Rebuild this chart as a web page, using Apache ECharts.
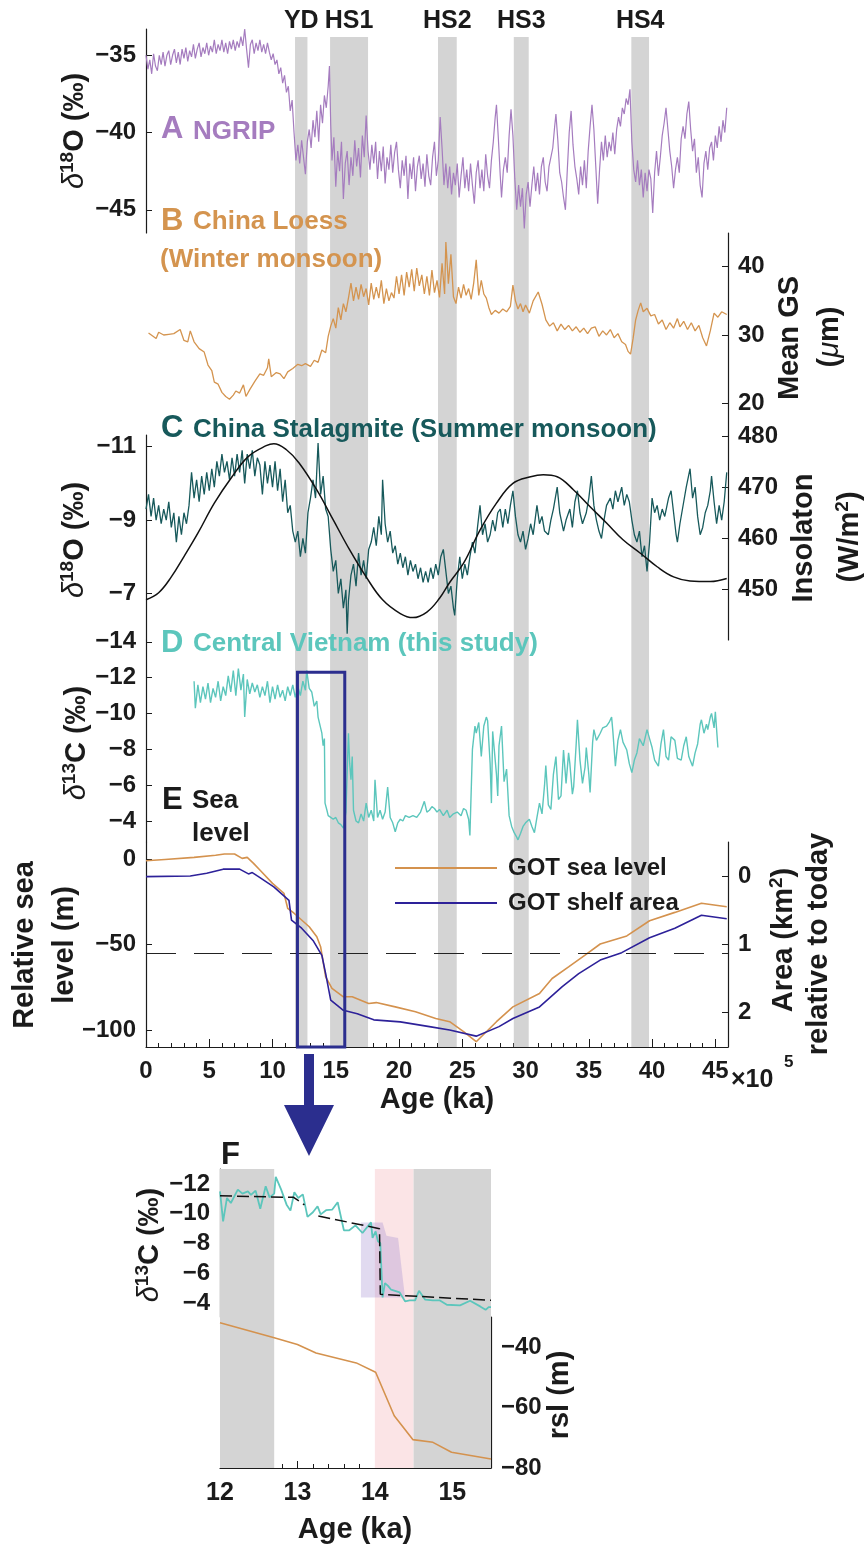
<!DOCTYPE html>
<html>
<head>
<meta charset="utf-8">
<script src="https://cdn.jsdelivr.net/npm/echarts@6/dist/echarts.min.js"></script>
<style>
  html, body { margin: 0; background: #fff; }
  #chart { width: 865px; height: 1546px; }
</style>
</head>
<body>
<div id="chart"></div>
<script>
// ---- data (age in ka) ----
const bandNames = ["YD", "HS1", "HS2", "HS3", "HS4"];
const bandStart = [11.78, 14.55, 23.08, 29.07, 38.36];
const bandEnd = [12.76, 17.55, 24.56, 30.25, 39.76];

const ngrip = [[0,-35.0],[0.15,-35.9],[0.3,-35.3],[0.45,-36.2],[0.6,-34.9],[0.75,-35.7],[0.9,-36.0],[1.05,-35.0],[1.2,-35.6],[1.35,-34.8],[1.5,-35.7],[1.65,-35.0],[1.8,-34.7],[1.95,-35.6],[2.1,-35.0],[2.25,-34.6],[2.4,-35.5],[2.55,-34.8],[2.7,-35.6],[2.85,-34.6],[3.0,-35.2],[3.15,-34.5],[3.3,-35.4],[3.45,-34.7],[3.6,-35.1],[3.75,-34.3],[3.9,-35.2],[4.05,-34.6],[4.2,-34.2],[4.35,-35.1],[4.5,-34.5],[4.65,-34.9],[4.8,-34.2],[4.95,-35.0],[5.1,-34.4],[5.25,-34.8],[5.4,-34.0],[5.55,-34.9],[5.7,-34.3],[5.85,-34.7],[6.0,-34.0],[6.15,-34.8],[6.3,-34.2],[6.45,-34.9],[6.6,-34.1],[6.75,-34.6],[6.9,-34.0],[7.05,-34.7],[7.2,-34.1],[7.35,-34.5],[7.5,-33.8],[7.65,-34.4],[7.8,-33.3],[7.95,-34.6],[8.1,-35.8],[8.25,-34.3],[8.4,-34.0],[8.55,-34.9],[8.7,-34.2],[8.85,-34.7],[9.0,-34.0],[9.15,-34.8],[9.3,-34.3],[9.45,-34.9],[9.6,-34.2],[9.75,-34.8],[9.9,-35.3],[10.05,-34.9],[10.2,-35.6],[10.35,-35.3],[10.5,-36.2],[10.65,-35.8],[10.8,-36.8],[10.95,-36.3],[11.1,-37.4],[11.25,-37.0],[11.4,-38.6],[11.55,-37.9],[11.7,-40.0],[11.85,-41.8],[12.0,-40.8],[12.15,-42.0],[12.3,-40.5],[12.45,-41.6],[12.6,-42.7],[12.75,-40.6],[12.9,-39.8],[13.05,-41.0],[13.2,-39.2],[13.35,-40.3],[13.5,-38.6],[13.65,-40.6],[13.8,-38.2],[13.95,-39.4],[14.1,-37.6],[14.25,-38.4],[14.4,-37.0],[14.5,-35.7],[14.6,-39.5],[14.7,-41.8],[14.85,-40.3],[15.0,-43.5],[15.15,-41.2],[15.3,-42.5],[15.45,-40.6],[15.6,-44.3],[15.75,-42.0],[15.9,-41.2],[16.05,-43.4],[16.2,-41.6],[16.35,-42.8],[16.5,-40.5],[16.65,-42.2],[16.8,-41.0],[16.95,-42.9],[17.1,-40.2],[17.25,-41.6],[17.4,-38.9],[17.55,-41.2],[17.7,-42.4],[17.85,-40.8],[18.0,-42.0],[18.15,-40.6],[18.3,-43.0],[18.45,-41.2],[18.6,-42.5],[18.75,-40.9],[18.9,-43.3],[19.05,-41.6],[19.2,-42.4],[19.35,-40.8],[19.5,-42.6],[19.65,-41.3],[19.8,-40.6],[19.95,-42.4],[20.1,-43.6],[20.25,-41.8],[20.4,-42.8],[20.55,-41.5],[20.7,-44.3],[20.85,-42.0],[21.0,-43.0],[21.15,-41.6],[21.3,-43.8],[21.45,-42.2],[21.6,-41.5],[21.75,-43.0],[21.9,-42.0],[22.05,-43.5],[22.2,-41.4],[22.35,-42.8],[22.5,-43.4],[22.65,-41.6],[22.8,-40.6],[22.95,-42.8],[23.1,-41.8],[23.25,-39.0],[23.4,-41.0],[23.55,-43.4],[23.7,-42.0],[23.85,-43.6],[24.0,-42.2],[24.15,-44.0],[24.3,-42.6],[24.45,-43.4],[24.6,-42.0],[24.75,-44.2],[24.9,-42.8],[25.05,-41.6],[25.2,-43.6],[25.35,-42.4],[25.5,-43.8],[25.65,-42.0],[25.8,-43.4],[25.95,-44.6],[26.1,-42.6],[26.25,-41.8],[26.4,-43.6],[26.55,-42.4],[26.7,-43.8],[26.85,-41.4],[27.0,-42.8],[27.15,-43.6],[27.3,-41.8],[27.45,-40.6],[27.6,-39.0],[27.7,-38.2],[27.85,-40.4],[28.0,-42.8],[28.1,-44.2],[28.25,-42.4],[28.4,-41.6],[28.55,-42.6],[28.7,-40.2],[28.85,-38.5],[29.0,-40.2],[29.15,-43.0],[29.3,-45.0],[29.45,-43.4],[29.6,-44.8],[29.75,-43.6],[29.9,-46.2],[30.05,-44.0],[30.2,-43.2],[30.35,-44.8],[30.5,-43.4],[30.65,-42.2],[30.8,-43.8],[30.95,-42.6],[31.1,-44.0],[31.25,-42.2],[31.4,-41.6],[31.55,-43.2],[31.7,-43.8],[31.85,-42.2],[32.0,-41.6],[32.15,-41.0],[32.3,-39.6],[32.4,-38.8],[32.55,-40.5],[32.7,-42.6],[32.85,-43.2],[33.0,-44.2],[33.15,-45.0],[33.3,-42.4],[33.45,-40.0],[33.6,-38.6],[33.75,-40.8],[33.9,-42.2],[34.05,-43.0],[34.2,-44.0],[34.35,-42.2],[34.5,-43.4],[34.65,-41.8],[34.8,-43.6],[34.95,-41.2],[35.1,-39.6],[35.25,-38.2],[35.4,-39.8],[35.55,-42.2],[35.7,-44.6],[35.85,-42.4],[36.0,-40.6],[36.15,-41.8],[36.3,-40.2],[36.45,-41.6],[36.6,-40.6],[36.75,-41.2],[36.9,-40.0],[37.05,-41.4],[37.2,-39.8],[37.35,-39.0],[37.5,-39.6],[37.65,-38.4],[37.8,-38.8],[37.95,-37.8],[38.1,-38.2],[38.25,-37.2],[38.4,-40.6],[38.55,-42.4],[38.7,-43.2],[38.85,-41.8],[39.0,-43.4],[39.15,-42.4],[39.3,-44.2],[39.45,-42.6],[39.6,-43.8],[39.75,-42.4],[39.9,-43.0],[40.05,-45.2],[40.2,-42.6],[40.35,-41.2],[40.5,-42.8],[40.65,-41.6],[40.8,-40.2],[40.95,-39.4],[41.1,-38.4],[41.25,-39.8],[41.4,-41.2],[41.55,-42.2],[41.7,-43.6],[41.85,-42.4],[42.0,-41.6],[42.15,-42.6],[42.3,-40.4],[42.45,-39.6],[42.6,-40.4],[42.75,-38.8],[42.9,-38.0],[43.05,-39.8],[43.2,-41.2],[43.35,-40.4],[43.5,-42.6],[43.65,-41.6],[43.8,-43.4],[43.95,-44.2],[44.1,-42.0],[44.25,-41.2],[44.4,-42.4],[44.55,-41.0],[44.7,-40.6],[44.85,-41.8],[45.0,-40.2],[45.15,-41.0],[45.3,-39.6],[45.45,-40.6],[45.6,-39.2],[45.75,-40.0],[45.9,-38.4]];

const loess = [[0.2,30.3],[0.5,29.9],[0.8,29.5],[1.0,30.4],[1.4,30.0],[1.8,30.1],[2.2,30.2],[2.7,30.8],[3.0,29.2],[3.3,29.0],[3.5,30.6],[3.8,29.0],[4.2,28.0],[4.6,27.5],[4.9,25.6],[5.2,24.8],[5.4,23.1],[5.7,22.8],[6.0,21.6],[6.3,21.0],[6.6,20.6],[6.9,21.2],[7.1,21.8],[7.4,21.5],[7.7,22.7],[7.9,21.0],[8.2,22.0],[8.6,23.2],[9.0,24.3],[9.3,24.1],[9.6,25.2],[9.7,26.5],[9.9,23.9],[10.3,24.5],[10.6,24.3],[10.9,23.6],[11.2,24.6],[11.6,25.1],[12.0,25.7],[12.3,25.5],[12.6,25.8],[13.0,25.4],[13.3,26.3],[13.6,26.0],[13.9,27.8],[14.2,27.4],[14.4,29.8],[14.6,31.3],[14.8,32.4],[15.0,31.0],[15.2,34.0],[15.4,32.2],[15.6,34.6],[15.8,33.4],[16.0,35.4],[16.2,37.6],[16.4,35.0],[16.6,37.0],[16.8,35.2],[17.0,37.4],[17.2,35.6],[17.4,36.8],[17.6,34.4],[17.8,37.6],[18.0,35.2],[18.2,37.0],[18.4,35.4],[18.6,38.0],[18.8,34.6],[19.0,36.8],[19.2,35.0],[19.4,36.2],[19.6,35.4],[19.8,38.6],[20.0,36.0],[20.2,38.8],[20.4,35.8],[20.6,39.2],[20.8,37.0],[21.0,39.6],[21.2,36.4],[21.4,39.8],[21.6,37.2],[21.8,38.8],[22.0,36.0],[22.2,38.6],[22.4,35.8],[22.6,39.5],[22.8,36.2],[23.0,38.0],[23.2,35.5],[23.4,40.5],[23.6,36.0],[23.7,43.6],[23.9,37.5],[24.1,41.8],[24.3,35.6],[24.5,34.6],[24.7,37.0],[24.9,35.4],[25.1,37.4],[25.3,35.8],[25.5,36.8],[25.7,35.2],[25.9,37.6],[26.1,41.0],[26.3,35.8],[26.5,38.0],[26.7,36.0],[26.9,35.4],[27.1,34.0],[27.3,33.0],[27.6,33.6],[27.9,33.2],[28.2,33.8],[28.5,33.4],[28.8,34.2],[29.0,37.3],[29.2,35.0],[29.4,33.8],[29.6,34.6],[29.8,33.4],[30.0,34.4],[30.3,33.2],[30.6,35.0],[31.0,36.3],[31.3,34.5],[31.6,32.2],[31.9,31.3],[32.2,31.8],[32.5,30.6],[32.8,31.6],[33.1,30.8],[33.4,31.4],[33.7,30.6],[34.0,31.2],[34.3,30.4],[34.6,31.0],[34.9,30.2],[35.2,31.0],[35.5,31.2],[35.8,29.8],[36.1,30.6],[36.4,30.0],[36.7,30.8],[37.0,29.6],[37.3,30.2],[37.6,29.0],[37.9,28.6],[38.1,27.6],[38.3,27.2],[38.5,29.5],[38.7,32.2],[38.9,33.6],[39.1,34.7],[39.3,33.4],[39.6,33.9],[39.9,32.8],[40.2,33.0],[40.5,31.6],[40.8,32.2],[41.1,30.8],[41.4,31.8],[41.7,31.0],[42.0,32.4],[42.2,31.2],[42.5,32.0],[42.8,30.8],[43.1,31.8],[43.4,30.6],[43.7,31.4],[44.0,29.6],[44.3,28.4],[44.6,30.6],[44.9,33.2],[45.2,32.6],[45.5,33.4],[45.9,33.0]];

const stalagmite = [[0.0,-9.3],[0.2,-9.7],[0.4,-9.1],[0.6,-9.6],[0.8,-9.0],[1.0,-9.4],[1.2,-8.9],[1.4,-9.3],[1.6,-9.0],[1.8,-9.5],[2.0,-8.8],[2.2,-9.2],[2.4,-8.4],[2.6,-9.1],[2.8,-8.6],[3.0,-9.2],[3.2,-8.9],[3.4,-9.4],[3.6,-10.3],[3.8,-9.6],[4.0,-10.1],[4.2,-9.5],[4.4,-10.2],[4.6,-9.7],[4.8,-10.3],[5.0,-9.8],[5.2,-10.4],[5.4,-9.9],[5.6,-10.6],[5.8,-10.2],[6.0,-10.8],[6.2,-10.3],[6.4,-10.6],[6.6,-10.1],[6.8,-10.7],[7.0,-10.2],[7.2,-10.8],[7.4,-10.3],[7.6,-10.9],[7.8,-10.0],[8.0,-10.8],[8.2,-10.4],[8.4,-10.9],[8.6,-10.2],[8.8,-10.7],[9.0,-10.5],[9.2,-9.7],[9.4,-10.6],[9.6,-10.0],[9.8,-10.5],[10.0,-9.9],[10.2,-10.6],[10.4,-9.8],[10.6,-10.4],[10.8,-9.5],[11.0,-10.1],[11.2,-9.2],[11.4,-9.4],[11.6,-8.7],[11.8,-8.4],[12.0,-8.7],[12.2,-8.0],[12.4,-8.5],[12.6,-8.1],[12.8,-9.2],[13.0,-9.6],[13.2,-10.1],[13.4,-9.6],[13.6,-11.1],[13.8,-9.7],[14.0,-10.2],[14.2,-9.3],[14.4,-9.1],[14.6,-8.2],[14.8,-7.6],[15.0,-7.9],[15.2,-7.0],[15.4,-7.4],[15.6,-6.6],[15.8,-7.1],[15.9,-5.9],[16.0,-6.8],[16.2,-7.5],[16.4,-7.8],[16.6,-7.2],[16.8,-8.1],[17.0,-7.5],[17.2,-7.9],[17.4,-7.4],[17.6,-8.2],[17.8,-8.4],[18.0,-8.8],[18.2,-8.3],[18.4,-9.1],[18.6,-8.6],[18.7,-10.1],[18.9,-8.9],[19.1,-8.4],[19.3,-8.7],[19.5,-8.1],[19.7,-8.3],[19.9,-7.8],[20.1,-8.1],[20.3,-7.7],[20.5,-8.0],[20.7,-7.5],[20.9,-7.9],[21.1,-7.6],[21.3,-7.8],[21.5,-7.4],[21.7,-7.7],[21.9,-7.3],[22.1,-7.6],[22.3,-7.3],[22.5,-7.7],[22.7,-7.4],[22.9,-7.8],[23.1,-7.5],[23.3,-8.0],[23.5,-8.2],[23.7,-7.6],[23.9,-7.0],[24.1,-7.2],[24.3,-6.6],[24.4,-6.4],[24.6,-7.4],[24.8,-8.0],[25.0,-7.4],[25.2,-7.8],[25.4,-7.5],[25.6,-8.0],[25.8,-8.4],[26.0,-8.1],[26.2,-8.8],[26.4,-9.4],[26.6,-8.6],[26.8,-8.9],[27.0,-8.4],[27.2,-8.6],[27.4,-9.0],[27.6,-8.7],[27.8,-9.2],[28.0,-9.3],[28.2,-8.8],[28.4,-9.3],[28.6,-8.9],[28.8,-9.4],[29.0,-9.8],[29.2,-9.1],[29.4,-8.6],[29.6,-8.4],[29.8,-8.7],[30.0,-8.2],[30.2,-8.5],[30.4,-8.9],[30.6,-8.6],[30.9,-9.4],[31.1,-8.9],[31.3,-9.1],[31.5,-8.7],[31.8,-8.6],[32.0,-9.0],[32.2,-9.3],[32.5,-9.9],[32.7,-9.2],[33.0,-8.7],[33.2,-9.0],[33.5,-9.3],[33.7,-8.8],[33.9,-9.5],[34.1,-9.8],[34.3,-9.2],[34.5,-8.9],[34.8,-9.2],[35.0,-9.6],[35.2,-10.2],[35.4,-9.4],[35.6,-9.0],[35.8,-8.7],[36.0,-8.5],[36.2,-9.0],[36.4,-9.4],[36.7,-9.6],[36.9,-9.3],[37.1,-9.8],[37.3,-9.5],[37.6,-9.9],[37.8,-9.4],[38.0,-9.7],[38.2,-9.5],[38.4,-9.0],[38.6,-8.6],[38.8,-8.4],[39.0,-8.7],[39.2,-8.0],[39.4,-8.3],[39.6,-7.6],[39.8,-8.4],[40.0,-9.6],[40.2,-9.2],[40.4,-9.4],[40.6,-9.0],[40.8,-9.3],[41.0,-9.1],[41.3,-9.6],[41.5,-9.8],[41.7,-9.2],[41.9,-8.6],[42.0,-8.4],[42.2,-8.9],[42.5,-9.5],[42.7,-9.9],[43.0,-10.4],[43.2,-9.6],[43.4,-9.9],[43.6,-9.1],[43.8,-8.6],[44.0,-8.8],[44.2,-9.2],[44.4,-9.4],[44.6,-9.8],[44.7,-10.2],[44.9,-9.5],[45.1,-8.9],[45.3,-9.4],[45.5,-9.0],[45.7,-9.5],[45.9,-10.3]];

const insolation = [[0,447.9],[1,449.3],[2,452.4],[3,456.4],[4.1,461.0],[5.4,466.9],[6.8,472.1],[8.1,476.1],[9.5,478.2],[10.1,478.6],[11.1,477.4],[12.1,474.8],[13.5,469.5],[14.8,463.6],[16.1,457.7],[17.4,452.4],[18.7,447.9],[20.1,445.2],[21.1,444.4],[22.2,445.5],[23.2,448.2],[24.0,451.3],[25.1,455.1],[26.4,461.6],[27.7,466.9],[29.0,470.8],[30.4,472.1],[31.4,472.5],[32.5,472.1],[33.8,469.5],[35.1,466.2],[36.4,463.0],[37.7,459.7],[39.1,457.0],[40.4,454.4],[41.7,452.4],[43.0,451.6],[44.6,451.5],[45.9,452.1]];

const vietnam = [[3.8,-11.8],[3.9,-10.3],[4.1,-11.6],[4.3,-10.6],[4.5,-11.5],[4.7,-10.8],[4.9,-11.7],[5.1,-10.6],[5.3,-11.4],[5.5,-10.9],[5.7,-11.8],[5.9,-10.7],[6.1,-11.5],[6.3,-11.0],[6.5,-12.1],[6.7,-11.2],[6.9,-12.4],[7.1,-11.0],[7.3,-12.5],[7.5,-11.3],[7.7,-12.2],[7.8,-9.8],[8.0,-11.9],[8.2,-11.1],[8.4,-11.7],[8.6,-11.2],[8.8,-11.6],[9.0,-10.9],[9.2,-11.5],[9.4,-11.0],[9.6,-11.8],[9.8,-10.6],[10.0,-11.5],[10.2,-10.8],[10.4,-11.6],[10.6,-10.9],[10.8,-11.3],[11.0,-10.7],[11.2,-11.5],[11.4,-11.0],[11.6,-11.6],[11.8,-10.9],[12.0,-11.5],[12.2,-11.0],[12.4,-11.8],[12.6,-11.3],[12.7,-12.4],[12.9,-11.4],[13.1,-11.2],[13.3,-10.4],[13.5,-10.7],[13.6,-9.8],[13.8,-9.2],[13.9,-8.9],[14.0,-8.2],[14.1,-8.6],[14.15,-5.0],[14.3,-4.6],[14.4,-4.3],[14.6,-4.2],[14.8,-4.1],[15.0,-4.2],[15.2,-3.9],[15.4,-3.8],[15.6,-3.6],[15.8,-4.5],[16.0,-8.9],[16.1,-7.2],[16.2,-6.3],[16.3,-7.6],[16.4,-4.6],[16.6,-4.0],[16.8,-3.9],[17.0,-4.4],[17.2,-4.0],[17.4,-5.0],[17.6,-4.2],[17.8,-4.6],[18.0,-4.0],[18.1,-6.3],[18.3,-4.2],[18.5,-4.6],[18.7,-4.1],[18.9,-4.5],[19.1,-5.9],[19.3,-4.2],[19.5,-3.9],[19.7,-3.4],[19.9,-3.9],[20.1,-4.1],[20.3,-4.0],[20.5,-4.3],[20.8,-4.2],[21.1,-4.3],[21.4,-4.2],[21.7,-4.5],[22.0,-5.1],[22.2,-4.5],[22.4,-4.6],[22.6,-4.8],[22.8,-4.7],[23.0,-4.5],[23.2,-4.65],[23.5,-4.3],[23.8,-4.6],[24.0,-4.2],[24.3,-4.4],[24.6,-4.5],[24.9,-4.3],[25.1,-4.7],[25.3,-4.6],[25.5,-4.1],[25.6,-3.2],[25.8,-8.0],[26.0,-9.3],[26.1,-8.9],[26.3,-9.5],[26.5,-7.6],[26.7,-9.3],[26.9,-9.8],[27.0,-9.6],[27.2,-7.2],[27.3,-5.0],[27.4,-9.0],[27.5,-9.1],[27.7,-6.6],[27.8,-5.4],[27.9,-8.2],[28.1,-9.3],[28.3,-6.2],[28.5,-6.9],[28.7,-4.3],[28.9,-3.7],[29.1,-3.35],[29.3,-3.1],[29.4,-2.95],[29.6,-3.3],[29.8,-3.7],[30.0,-3.9],[30.3,-4.1],[30.5,-3.7],[30.7,-3.35],[30.9,-4.2],[31.1,-5.0],[31.3,-4.4],[31.5,-6.0],[31.6,-7.1],[31.8,-4.9],[32.0,-4.65],[32.2,-6.6],[32.4,-7.6],[32.6,-5.2],[32.8,-5.4],[33.0,-7.96],[33.2,-6.1],[33.4,-7.8],[33.5,-7.2],[33.7,-5.5],[33.8,-5.9],[34.0,-8.3],[34.1,-9.65],[34.3,-7.4],[34.5,-6.1],[34.7,-7.0],[34.8,-8.1],[35.0,-6.6],[35.1,-5.6],[35.3,-8.4],[35.4,-9.1],[35.6,-8.5],[35.9,-8.9],[36.1,-9.2],[36.4,-9.3],[36.6,-9.5],[36.8,-9.8],[36.9,-9.0],[37.1,-7.06],[37.3,-8.5],[37.5,-9.1],[37.7,-8.4],[38.0,-7.96],[38.2,-7.2],[38.4,-6.7],[38.6,-7.4],[38.8,-7.8],[39.0,-8.6],[39.3,-8.2],[39.6,-9.1],[39.8,-8.6],[40.0,-8.1],[40.2,-7.4],[40.5,-7.06],[40.7,-8.3],[40.9,-9.1],[41.1,-7.6],[41.3,-7.4],[41.5,-8.7],[41.8,-8.5],[42.0,-7.5],[42.3,-7.4],[42.5,-8.2],[42.7,-8.7],[42.9,-7.6],[43.2,-7.06],[43.4,-7.8],[43.6,-8.3],[43.8,-9.4],[43.9,-9.65],[44.1,-8.9],[44.3,-9.4],[44.4,-9.1],[44.6,-9.8],[44.7,-10.0],[44.9,-9.2],[45.0,-10.1],[45.2,-8.1]];

const seaLevel = [[0,-1],[1.5,-0.2],[3.8,1.0],[5.5,2.2],[6.2,3.0],[7.0,3.0],[7.6,0.4],[8.0,1.0],[8.5,-2.5],[9.0,-6.4],[10.0,-14.2],[10.9,-20],[11.2,-28.8],[11.7,-31.7],[12.9,-39.6],[13.5,-45.5],[13.8,-51.3],[14.2,-68.9],[14.7,-75.7],[15.6,-80.6],[16.3,-80.6],[17.6,-84.5],[18.2,-84],[19.7,-86.5],[21.3,-89.4],[22.9,-93.3],[24.0,-95.2],[25.1,-101],[26.1,-106.9],[27.7,-95.2],[29.0,-86.5],[31.1,-78.7],[32.1,-69.9],[33.4,-63.1],[34.7,-56.2],[35.9,-49.7],[38.0,-45],[39.8,-36.1],[41.8,-31.2],[43.9,-25.9],[45.9,-27.9]];
const shelfArea = [[0,0],[3.5,-0.01],[4.8,-0.05],[6.1,-0.11],[7.4,-0.11],[8.1,-0.04],[8.4,-0.06],[8.8,-0.01],[10.1,0.15],[11.3,0.35],[11.5,0.64],[12.3,0.76],[13.2,0.94],[13.9,1.16],[14.2,1.43],[14.6,1.82],[15.6,1.97],[16.7,2.02],[18.0,2.11],[20.1,2.14],[22.4,2.21],[24.0,2.26],[26.1,2.35],[27.9,2.21],[29.0,2.09],[31.1,1.92],[32.9,1.62],[34.2,1.43],[35.9,1.23],[37.6,1.12],[39.8,0.90],[41.8,0.76],[43.9,0.57],[45.9,0.62]];
const shelfThreshold = -55;
const boxAge = [11.97, 15.71];
const boxTop = -12.3;

// panel F (12-15.5 ka zoom)
const fGray = [[12.0, 12.7], [14.5, 15.5]];
const fPink = [14.0, 14.5];
const fD13C = [[12.0,-11.5],[12.04,-9.49],[12.09,-11.06],[12.14,-10.72],[12.23,-11.62],[12.29,-11.35],[12.36,-11.5],[12.4,-11.26],[12.46,-11.55],[12.52,-10.34],[12.59,-11.84],[12.64,-11.1],[12.7,-11.35],[12.72,-12.47],[12.79,-11.62],[12.86,-10.61],[12.91,-10.21],[12.96,-11.44],[13.01,-11.06],[13.07,-11.3],[13.13,-9.79],[13.2,-10.1],[13.26,-10.5],[13.3,-9.96],[13.37,-10.24],[13.45,-10.28],[13.52,-10.77],[13.6,-8.89],[13.67,-8.89],[13.75,-9.22],[13.84,-8.71],[13.95,-9.42],[13.97,-8.38],[14.01,-8.82],[14.04,-8.15],[14.07,-8.04],[14.1,-4.39],[14.13,-5.35],[14.17,-5.17],[14.21,-4.91],[14.28,-4.8],[14.32,-4.73],[14.39,-4.13],[14.45,-4.19],[14.52,-4.19],[14.57,-4.84],[14.65,-4.24],[14.75,-4.19],[14.84,-4.19],[14.93,-3.9],[15.1,-3.86],[15.23,-4.17],[15.36,-3.79],[15.43,-3.56],[15.47,-3.74],[15.5,-3.74]];
const fFit = [[12.0,-11.2],[12.95,-11.1],[13.09,-10.6],[13.18,"-"],[13.27,-9.85],[14.06,-9.0],[14.07,-4.6],[15.5,-4.2]];
const fShade = [[13.82,-9.42],[14.10,-9.42],[14.15,-8.53],[14.30,-8.38],[14.37,-5.24],[14.39,-4.39]];
const fShadeBase = -4.39;
const fRsl = [[12.0,-31.9],[12.7,-36.9],[13.0,-39.1],[13.24,-41.9],[13.76,-45.2],[14.01,-48.3],[14.25,-62.7],[14.49,-70.6],[14.75,-71.5],[14.99,-74.8],[15.5,-77]];

// ---- styling ----
const FONT = '"Liberation Sans", Arial, Helvetica, sans-serif';
const INK = "#1b1b1b";
const colors = {
  ngrip: "#a57cbf", loess: "#d4944f", stal: "#17595b", viet: "#5cc6bc",
  sea: "#d4924e", shelf: "#2d2199", navy: "#2b2e8e", band: "#d4d4d4", pink: "#fbe4e6",
};
const minus = (v) => String(v).replace("-", "\u2212");
const L = 146, W = 582;

function hiddenX(gridIndex, min, max) {
  return { type: "value", gridIndex, min, max, show: false };
}

function yAxisOf(gridIndex, min, max, ticks, extra) {
  return Object.assign({
    type: "value", gridIndex, min, max,
    axisLine: { show: true, onZero: false, lineStyle: { color: INK, width: 1.2 } },
    axisTick: { show: true, inside: true, length: 6, customValues: ticks, lineStyle: { color: INK } },
    axisLabel: { customValues: ticks, formatter: minus, color: INK, fontSize: 24, fontWeight: "bold", fontFamily: FONT, margin: 10 },
    splitLine: { show: false },
  }, extra || {});
}

function lineSeries(name, x, y, data, color, width, extra) {
  return Object.assign({
    name, type: "line", xAxisIndex: x, yAxisIndex: y, data,
    showSymbol: false, symbol: "none", silent: true,
    lineStyle: { color, width }, itemStyle: { color },
  }, extra || {});
}

const chart = echarts.init(document.getElementById("chart"), null, { renderer: "canvas" });

chart.setOption({
  animation: false,
  grid: [
    { left: L, width: W, top: 37, height: 1010 },
    { left: L, width: W, top: 29, height: 204 },
    { left: L, width: W, top: 233, height: 202 },
    { left: L, width: W, top: 435, height: 205 },
    { left: L, width: W, top: 640, height: 202 },
    { left: L, width: W, top: 842, height: 205 },
    { left: 220, width: 271, top: 1169, height: 299 },
    { left: 220, width: 271, top: 1169, height: 148 },
    { left: 220, width: 271, top: 1317, height: 151 },
  ],
  xAxis: [
    hiddenX(0, 0, 46), hiddenX(1, 0, 46), hiddenX(2, 0, 46), hiddenX(3, 0, 46), hiddenX(4, 0, 46),
    {
      type: "value", gridIndex: 5, min: 0, max: 46, interval: 5,
      axisLine: { show: true, onZero: false, lineStyle: { color: INK, width: 1.2 } },
      axisTick: { inside: true, length: 8, lineStyle: { color: INK } },
      minorTick: { show: true, splitNumber: 5, length: 4, lineStyle: { color: INK } },
      axisLabel: { showMaxLabel: false, color: INK, fontSize: 24, fontWeight: "bold", fontFamily: FONT, margin: 12 },
      splitLine: { show: false }, minorSplitLine: { show: false },
    },
    hiddenX(6, 12, 15.5), hiddenX(7, 12, 15.5),
    {
      type: "value", gridIndex: 8, min: 12, max: 15.5, interval: 1,
      axisLine: { show: true, onZero: false, lineStyle: { color: INK, width: 1.2 } },
      axisTick: { inside: true, length: 7, lineStyle: { color: INK } },
      minorTick: { show: true, splitNumber: 5, length: 4, lineStyle: { color: INK } },
      axisLabel: { showMaxLabel: false, color: INK, fontSize: 25, fontWeight: "bold", fontFamily: FONT, margin: 13 },
      splitLine: { show: false }, minorSplitLine: { show: false },
    },
  ],
  yAxis: [
    { type: "value", gridIndex: 0, min: 0, max: 1, show: false },
    yAxisOf(1, -46.5, -33.3, [-45, -40, -35]),
    yAxisOf(2, 15.36, 44.93, [20, 30, 40], { position: "right" }),
    yAxisOf(3, -11.32, -5.73, [-11, -9, -7], { inverse: true }),
    yAxisOf(3, 440, 480.3, [450, 460, 470, 480], { position: "right" }),
    yAxisOf(4, -14.1, -2.83, [-14, -12, -10, -8, -6, -4], { inverse: true }),
    yAxisOf(5, -110, 10, [-100, -50, 0]),
    yAxisOf(5, -0.51, 2.51, [0, 1, 2], { position: "right", inverse: true }),
    { type: "value", gridIndex: 6, min: 0, max: 1, show: false },
    yAxisOf(7, -13, -3.08, [-12, -10, -8, -6, -4], { inverse: true }),
    yAxisOf(8, -80, -30, [-80, -60, -40], { position: "right" }),
  ],
  legend: {
    data: ["GOT sea level", "GOT shelf area"],
    orient: "vertical", left: 390, top: 851, itemWidth: 102, itemHeight: 2, itemGap: 11,
    icon: "rect", selectedMode: false,
    textStyle: { color: INK, fontSize: 24, fontWeight: "bold", fontFamily: FONT, padding: [0, 0, 0, 6] },
  },
  series: [
    {
      type: "line", xAxisIndex: 0, yAxisIndex: 0, data: [[0, -5]], symbol: "none", silent: true, z: 0,
      markArea: {
        silent: true,
        itemStyle: { color: colors.band },
        label: { show: true, position: "top", distance: 3, color: INK, fontSize: 25, fontWeight: "bold", fontFamily: FONT },
        data: bandNames.map((n, i) => [{ name: n, xAxis: bandStart[i] }, { xAxis: bandEnd[i] }]),
      },
    },
    lineSeries("NGRIP", 1, 1, ngrip, colors.ngrip, 1.2),
    lineSeries("China Loess", 2, 2, loess, colors.loess, 1.3),
    lineSeries("China Stalagmite", 3, 3, stalagmite, colors.stal, 1.3),
    lineSeries("Insolation", 3, 4, insolation, "#111", 1.5, { smooth: 0.4 }),
    lineSeries("Central Vietnam", 4, 5, vietnam, colors.viet, 1.4),
    lineSeries("GOT sea level", 5, 6, seaLevel, colors.sea, 1.6, {
      markLine: {
        silent: true, symbol: "none", label: { show: false },
        lineStyle: { color: "#222", width: 1.2, type: [30, 18] },
        data: [{ yAxis: shelfThreshold }],
      },
    }),
    lineSeries("GOT shelf area", 5, 7, shelfArea, colors.shelf, 1.6),
    {
      type: "line", xAxisIndex: 6, yAxisIndex: 8, data: [[12, -5]], symbol: "none", silent: true, z: 0,
      markArea: {
        silent: true,
        data: [
          [{ xAxis: fGray[0][0], itemStyle: { color: colors.band } }, { xAxis: fGray[0][1] }],
          [{ xAxis: fPink[0], itemStyle: { color: colors.pink } }, { xAxis: fPink[1] }],
          [{ xAxis: fGray[1][0], itemStyle: { color: colors.band } }, { xAxis: fGray[1][1] }],
        ],
      },
    },
    lineSeries("shade", 7, 9, fShade, "rgba(0,0,0,0)", 0, {
      areaStyle: { color: "rgba(160,140,208,0.45)", origin: fShadeBase }, z: 1,
    }),
    lineSeries("F d13C", 7, 9, fD13C, colors.viet, 1.8),
    lineSeries("F fit", 7, 9, fFit, "#111", 1.5, { lineStyle: { color: "#111", width: 1.5, type: [12, 5] } }),
    lineSeries("F rsl", 8, 10, fRsl, colors.sea, 1.6),
  ],
});

// ---- annotation text & shapes ----
function txt(x, y, text, size, color, align) {
  return {
    type: "text", x, y, z: 50, silent: true,
    style: { text, fill: color || INK, font: `bold ${size}px ${FONT}`, textAlign: align || "left", textVerticalAlign: "middle" },
  };
}

const baseTok = { fontSize: 29, fontWeight: "bold", fontFamily: FONT, fill: INK, lineHeight: 34 };
const supTok = { fontSize: 19, fontWeight: "bold", fontFamily: FONT, fill: INK, lineHeight: 16, verticalAlign: "top" };
const itTok = { fontSize: 29, fontStyle: "italic", fontFamily: FONT, fill: INK, lineHeight: 34 };
const richStd = { b: baseTok, s: supTok, i: itTok };
const deltaText = (iso, el) => `{i|δ}{s|${iso}}{b|${el} (‰)}`;

function rotated(x, y, text) {
  return {
    type: "text", x, y, rotation: Math.PI / 2, z: 50, silent: true,
    style: { text, rich: richStd, fill: INK, font: `bold 29px ${FONT}`, textAlign: "center", textVerticalAlign: "middle" },
  };
}

const xPix = (axis, v) => chart.convertToPixel({ xAxisIndex: axis }, v);
const yPix = (axis, v) => chart.convertToPixel({ yAxisIndex: axis }, v);
const bx0 = xPix(4, boxAge[0]), bx1 = xPix(4, boxAge[1]);
const by0 = yPix(5, boxTop), by1 = yPix(6, -110);

chart.setOption({
  graphic: [
    txt(161, 129, "A", 31, colors.ngrip), txt(193, 132, "NGRIP", 26, colors.ngrip),
    txt(161, 221, "B", 31, colors.loess), txt(193, 222, "China Loess", 26, colors.loess),
    txt(160, 260, "(Winter monsoon)", 26, colors.loess),
    txt(161, 428, "C", 31, colors.stal), txt(193, 430, "China Stalagmite (Summer monsoon)", 26, colors.stal),
    txt(161, 643, "D", 31, colors.viet), txt(193, 644, "Central Vietnam (this study)", 26, colors.viet),
    txt(162, 800, "E", 31, INK), txt(192, 801, "Sea", 26, INK), txt(192, 834, "level", 26, INK),
    txt(221, 1155, "F", 31, INK),
    rotated(75, 131, deltaText("18", "O")),
    rotated(75, 540, deltaText("18", "O")),
    rotated(77, 743, deltaText("13", "C")),
    rotated(150, 1245, deltaText("13", "C")),
    rotated(25, 945, "{b|Relative sea}"),
    rotated(65, 945, "{b|level (m)}"),
    rotated(790, 338, "{b|Mean GS}"),
    rotated(830, 337, "{b|(}{i|μ}{b|m)}"),
    rotated(804, 538, "{b|Insolaton}"),
    rotated(850, 537, "{b|(W/m}{s|2}{b|)}"),
    rotated(784, 940, "{b|Area (km}{s|2}{b|)}"),
    rotated(819, 944, "{b|relative to today}"),
    rotated(560, 1395, "{b|rsl (m)}"),
    txt(437, 1100, "Age (ka)", 29, INK, "center"),
    txt(355, 1530, "Age (ka)", 29, INK, "center"),
    txt(731, 1080, "\u00d710", 25, INK), txt(784, 1062, "5", 17, INK),
    {
      type: "rect", z: 40, silent: true,
      shape: { x: bx0, y: by0, width: bx1 - bx0, height: by1 - by0 },
      style: { fill: "none", stroke: colors.navy, lineWidth: 3 },
    },
    {
      type: "polygon", z: 40, silent: true,
      shape: { points: [[304, 1054], [314, 1054], [314, 1105], [334, 1105], [309, 1156], [284, 1105], [304, 1105]] },
      style: { fill: colors.navy },
    },
  ],
});
</script>
</body>
</html>
